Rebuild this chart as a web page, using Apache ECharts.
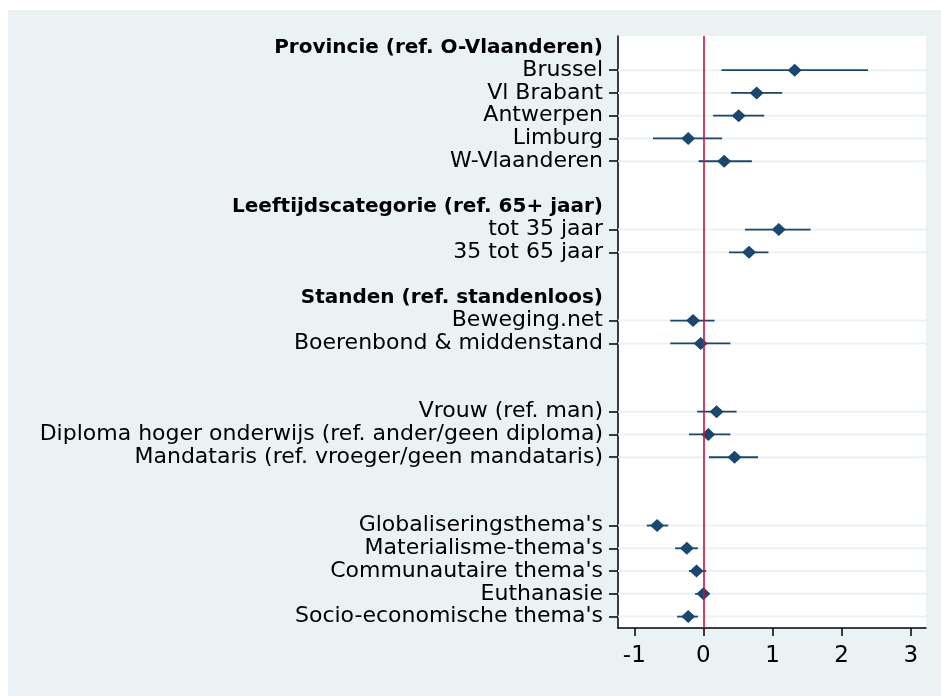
<!DOCTYPE html>
<html>
<head>
<meta charset="utf-8">
<script src="https://cdn.jsdelivr.net/npm/echarts@6.0.0/dist/echarts.min.js"></script>
<style>
  html, body { margin: 0; padding: 0; background: #ffffff; width: 941px; height: 696px; overflow: hidden; }
  #chart { position: absolute; left: 8px; top: 10px; width: 933px; height: 686px; }
</style>
</head>
<body>
<div id="chart"></div>
<script>
// Row labels (top to bottom); '' marks an empty spacer row
const categories = [
  'Provincie (ref. O-Vlaanderen)', 'Brussel', 'Vl Brabant', 'Antwerpen', 'Limburg', 'W-Vlaanderen', '',
  'Leeftijdscategorie (ref. 65+ jaar)', 'tot 35 jaar', '35 tot 65 jaar', '',
  'Standen (ref. standenloos)', 'Beweging.net', 'Boerenbond & middenstand', '', '',
  'Vrouw (ref. man)', 'Diploma hoger onderwijs (ref. ander/geen diploma)', 'Mandataris (ref. vroeger/geen mandataris)', '', '',
  "Globaliseringsthema's", "Materialisme-thema's", "Communautaire thema's", 'Euthanasie', "Socio-economische thema's"
];
// Group header rows (bold labels)
const headerRows = [0, 7, 11];
// Point estimates and confidence bounds (null = no estimate on this row)
const estimates = [null, 1.32, 0.77, 0.51, -0.22, 0.30, null, null, 1.09, 0.66, null, null, -0.15, -0.04, null, null, 0.19, 0.07, 0.45, null, null, -0.67, -0.24, -0.10, 0.00, -0.22];
const lower     = [null, 0.26, 0.40, 0.14, -0.73, -0.07, null, null, 0.60, 0.37, null, null, -0.48, -0.48, null, null, -0.09, -0.21, 0.08, null, null, -0.82, -0.41, -0.21, -0.12, -0.38];
const upper     = [null, 2.38, 1.14, 0.88, 0.27, 0.70, null, null, 1.55, 0.94, null, null, 0.16, 0.39, null, null, 0.48, 0.39, 0.79, null, null, -0.51, -0.08, 0.04, 0.08, -0.08];
// X axis tick labels
const xTicks = [-1, 0, 1, 2, 3];
const refValue = 0;

const rows = [];
estimates.forEach((v, i) => { if (v !== null) rows.push(i); });

const FONT = 'DejaVu Sans';
const NAVY = '#1a476f';

const chart = echarts.init(document.getElementById('chart'));
chart.setOption({
  backgroundColor: '#eaf2f3',
  animation: false,
  textStyle: { fontFamily: FONT },
  grid: {
    left: 610, right: 15, top: 26, bottom: 68,
    show: true, backgroundColor: '#ffffff', borderWidth: 0
  },
  xAxis: {
    type: 'value',
    min: -1.236, max: 3.22,
    splitLine: { show: false },
    axisLine: { show: true, onZero: false, lineStyle: { color: '#000', width: 1.5 } },
    axisTick: { show: true, length: 8, customValues: xTicks, lineStyle: { color: '#000', width: 1.5 } },
    axisLabel: { customValues: xTicks, color: '#000', fontSize: 23, fontFamily: FONT, margin: 17 }
  },
  yAxis: {
    type: 'category',
    inverse: true,
    data: categories,
    boundaryGap: true,
    splitLine: { show: false },
    axisLine: { show: true, onZero: false, lineStyle: { color: '#000', width: 1.5 } },
    axisTick: {
      show: true, alignWithLabel: true, length: 9,
      interval: (index) => estimates[index] !== null,
      lineStyle: { color: '#000', width: 1.5 }
    },
    axisLabel: {
      interval: 0, margin: 15, color: '#000', fontSize: 22, fontFamily: FONT,
      formatter: (value, index) => headerRows.includes(index) ? '{h|' + value + '}' : value,
      rich: { h: { fontWeight: 'bold', fontSize: 20, color: '#000', fontFamily: FONT } }
    }
  },
  series: [
    {
      type: 'custom',
      name: 'grid',
      z: 1,
      silent: true,
      encode: { x: 0, y: 1 },
      data: rows.map(r => [refValue, r]),
      renderItem: (params, api) => {
        const y = api.coord([0, api.value(1)])[1];
        const cs = params.coordSys;
        return {
          type: 'line',
          shape: { x1: cs.x, y1: y, x2: cs.x + cs.width, y2: y },
          style: { stroke: '#eaf2f3', lineWidth: 2 }
        };
      },
      markLine: {
        silent: true,
        symbol: 'none',
        label: { show: false },
        lineStyle: { color: '#d0103a', width: 1.6, type: 'solid' },
        data: [{ xAxis: refValue }]
      }
    },
    {
      type: 'custom',
      name: 'ci',
      z: 3,
      silent: true,
      encode: { y: 0, x: [1, 2] },
      data: rows.map(r => [r, lower[r], upper[r]]),
      renderItem: (params, api) => {
        const p1 = api.coord([api.value(1), api.value(0)]);
        const p2 = api.coord([api.value(2), api.value(0)]);
        return {
          type: 'line',
          shape: { x1: p1[0], y1: p1[1], x2: p2[0], y2: p2[1] },
          style: { stroke: NAVY, lineWidth: 1.8 }
        };
      }
    },
    {
      type: 'scatter',
      name: 'est',
      z: 4,
      silent: true,
      symbol: 'diamond',
      symbolSize: [14, 13],
      itemStyle: { color: NAVY, opacity: 1 },
      data: rows.map(r => [estimates[r], r])
    }
  ]
});
</script>
</body>
</html>
